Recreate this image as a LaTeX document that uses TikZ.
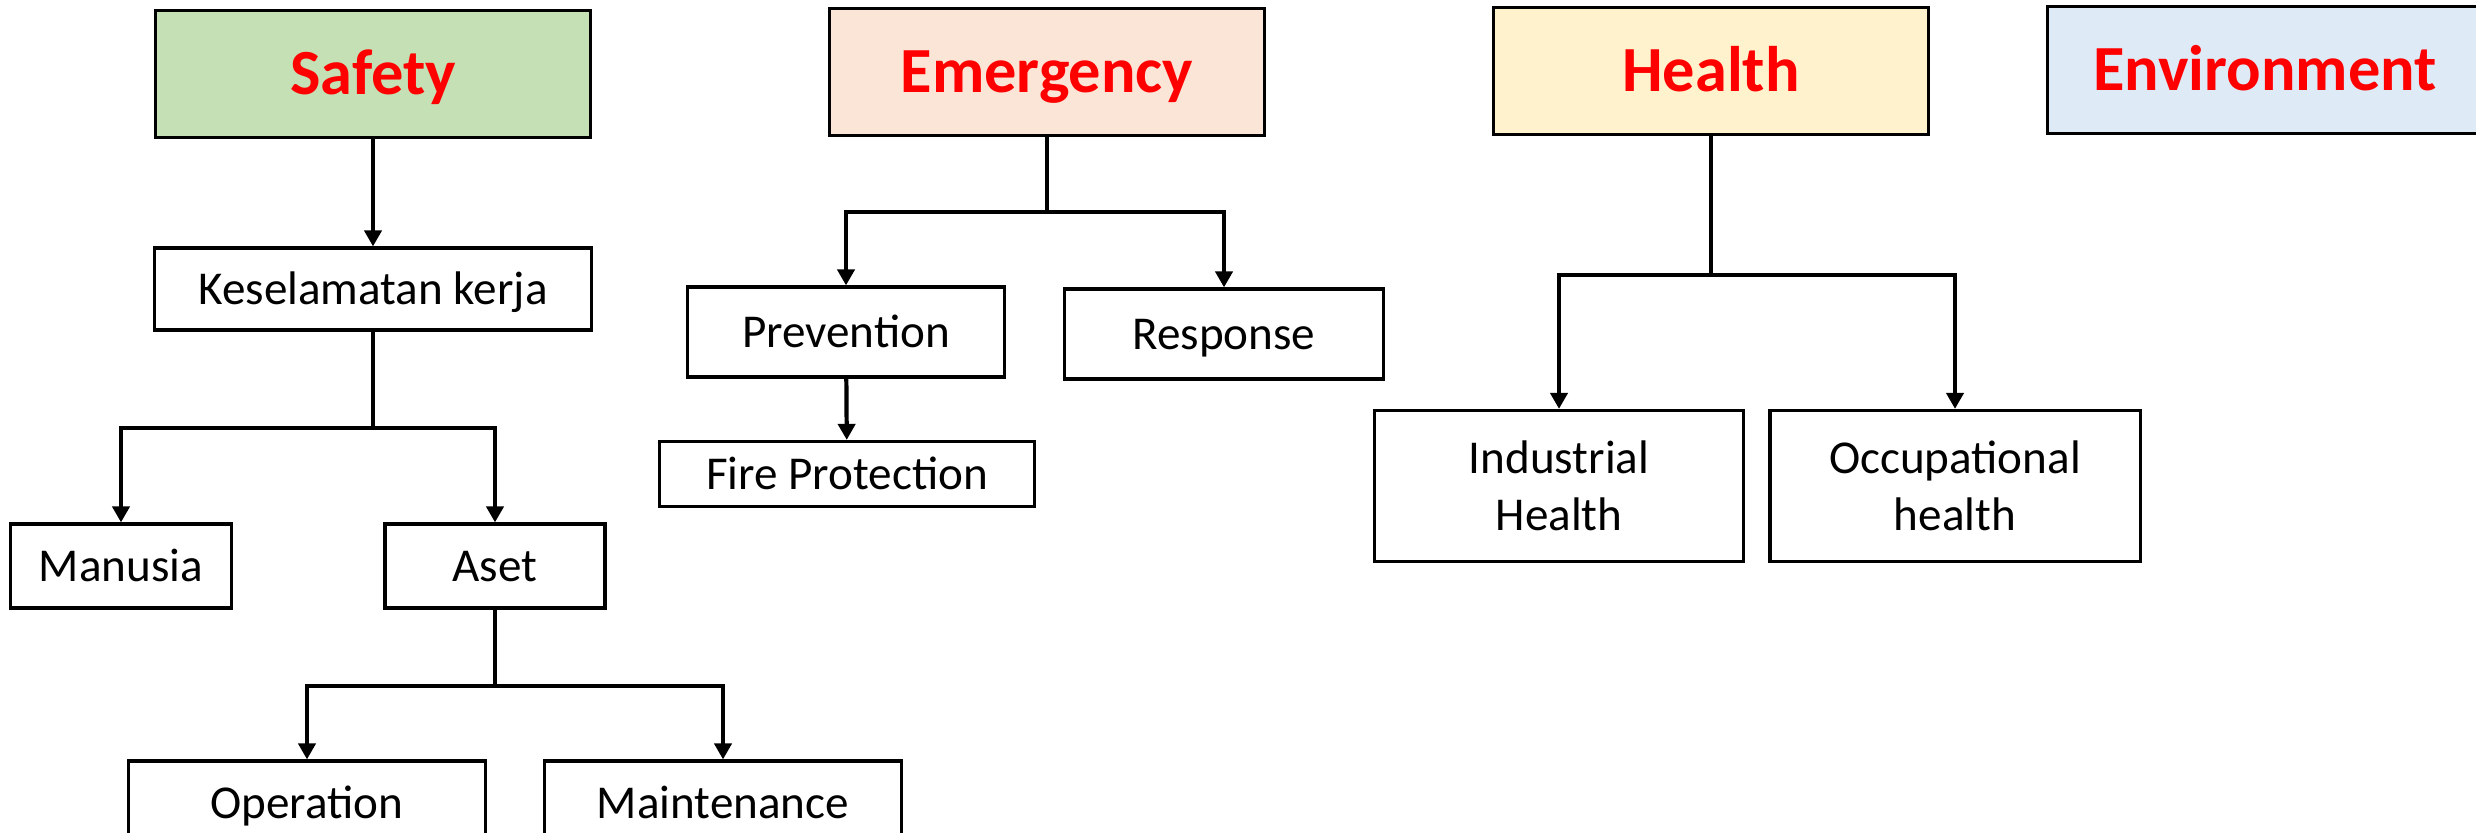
\documentclass[tikz,border=0pt]{standalone}
\usepackage{fontspec}
\setmainfont{Carlito}
\usetikzlibrary{arrows.meta}
\definecolor{safetyfill}{HTML}{C5E0B4}
\definecolor{emergfill}{HTML}{FBE5D6}
\definecolor{healthfill}{HTML}{FFF2CC}
\definecolor{envfill}{HTML}{DEEBF7}

\begin{document}
\begin{tikzpicture}[x=0.01cm, y=-0.01cm,
    frame/.style={draw, line width=0.9pt, inner sep=0pt, align=center,
        font=\fontsize{13.4}{16.2}\selectfont},
    box/.style={frame, text height=8.6pt, text depth=0pt},
    head/.style={frame, text=red, minimum width=4.35cm, minimum height=1.27cm,
        text height=11.8pt, text depth=0pt,
        font=\fontsize{18.3}{22}\selectfont\bfseries},
    arr/.style={line width=1.2pt, -{Triangle[length=0.16cm, width=0.17cm]}}]
    \useasboundingbox (0,0) rectangle (2476,832);
    \clip (0,0) rectangle (2476,832);

    % top row
    \node[head, fill=safetyfill] at (373,74)(safety) {Safety};
    \node[head, fill=emergfill] at (1047,72)(emergency) {Emergency};
    \node[head, fill=healthfill] at (1711,71)(health) {Health};
    \node[head, fill=envfill] at (2265,70)(environment) {Environment};

    % safety
    \node[box, minimum width=4.36cm, minimum height=0.82cm] at (373,289)(kerja) {Keselamatan kerja};
    \node[box, minimum width=2.21cm, minimum height=0.84cm] at (121,566)(manusia) {Manusia};
    \node[box, minimum width=2.20cm, minimum height=0.84cm] at (495,566)(aset) {Aset};
    \node[box, minimum width=3.57cm, minimum height=0.84cm] at (307,803)(operation) {Operation};
    \node[box, minimum width=3.57cm, minimum height=0.84cm] at (723,803)(maintenance) {Maintenance};

    % emergency
    \node[box, minimum width=3.17cm, minimum height=0.90cm] at (846,332)(prevention) {Prevention};
    \node[box, minimum width=3.19cm, minimum height=0.90cm] at (1224,334)(response) {Response};
    \node[box, minimum width=3.74cm, minimum height=0.65cm] at (847,474)(fire) {Fire Protection};

    % health
    \node[frame, minimum width=3.68cm, minimum height=1.51cm] at (1559,486)(industrial) {Industrial\\Health};
    \node[frame, minimum width=3.70cm, minimum height=1.51cm] at (1955,486)(occupational) {Occupational\\health};

    % connectors
    \draw[arr] (safety) -- (kerja);
    \draw[arr] (kerja.south) -- ++(0,96) -| (manusia);
    \draw[arr] (kerja.south) -- ++(0,96) -| (aset);
    \draw[arr] (aset.south) -- ++(0,76) -| (operation);
    \draw[arr] (aset.south) -- ++(0,76) -| (maintenance);
    \draw[arr] (emergency.south) -- ++(0,75) -| (prevention);
    \draw[arr] (emergency.south) -- ++(0,75) -| (response);
    \draw[arr] (prevention) -- (fire);
    \draw[arr] (health.south) -- ++(0,139) -| (industrial);
    \draw[arr] (health.south) -- ++(0,139) -| (occupational);

\end{tikzpicture}
\end{document}
